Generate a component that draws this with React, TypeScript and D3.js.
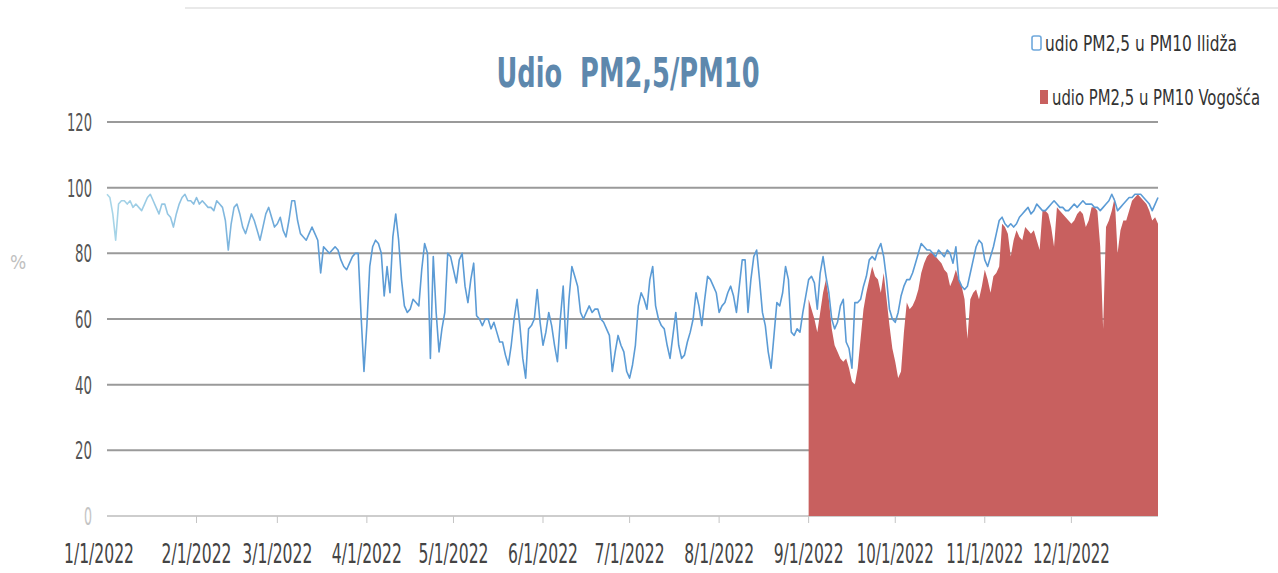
import React from "react";
import * as d3 from "d3";

const title = "Udio  PM2,5/PM10";
const seriesNames = ["udio PM2,5 u PM10 Ilidža", "udio PM2,5 u PM10 Vogošća"];
const yTicks = [0, 20, 40, 60, 80, 100, 120];
const monthLabels = ["1/1/2022", "2/1/2022", "3/1/2022", "4/1/2022", "5/1/2022", "6/1/2022", "7/1/2022", "8/1/2022", "9/1/2022", "10/1/2022", "11/1/2022", "12/1/2022"];

const ilidzaStart = "2022-01-01";
const ilidza = [
  // Jan
  98, 97, 92, 84, 95, 96, 96, 95, 96, 94, 95, 94, 93, 95, 97, 98, 96, 94, 92, 95, 95, 92, 91, 88, 92, 95, 97, 98, 96, 96, 95,
  // Feb
  97, 95, 96, 95, 94, 94, 93, 96, 95, 94, 90, 81, 89, 94, 95, 92, 88, 86, 89, 92, 90, 87, 84, 88, 92, 94, 91, 88,
  // Mar
  89, 91, 87, 85, 90, 96, 96, 90, 86, 85, 84, 86, 88, 86, 84, 74, 82, 81, 80, 81, 82, 81, 78, 76, 75, 77, 79, 80, 80, 61, 44,
  // Apr
  58, 76, 82, 84, 83, 80, 67, 76, 68, 85, 92, 84, 72, 64, 62, 63, 66, 65, 64, 75, 83, 80, 48, 79, 62, 50, 57, 62, 80, 79,
  // May
  75, 71, 78, 80, 70, 65, 72, 77, 61, 60, 58, 60, 60, 57, 59, 56, 53, 53, 49, 46, 52, 60, 66, 58, 48, 42, 57, 58, 60, 69, 59,
  // Jun
  52, 56, 62, 58, 52, 47, 60, 70, 51, 66, 76, 73, 70, 62, 60, 62, 64, 62, 63, 63, 60, 59, 57, 55, 44, 50, 55, 52, 50, 44,
  // Jul
  42, 46, 52, 64, 68, 66, 63, 72, 76, 64, 60, 58, 57, 52, 48, 55, 62, 52, 48, 49, 53, 56, 60, 68, 64, 58, 66, 73, 72, 70, 68,
  // Aug
  62, 64, 65, 68, 70, 67, 62, 70, 78, 78, 62, 72, 79, 81, 72, 62, 58, 50, 45, 55, 65, 64, 68, 76, 72, 56, 55, 57, 56, 62, 67,
  // Sep
  72, 73, 71, 63, 74, 79, 73, 68, 60, 57, 59, 64, 66, 53, 51, 45, 65, 65, 66, 70, 73, 78, 79, 78, 81, 83, 79, 72, 63, 60,
  // Oct
  59, 62, 67, 70, 72, 72, 74, 77, 80, 83, 82, 81, 81, 80, 79, 81, 80, 79, 81, 80, 77, 82, 72, 70, 69, 70, 74, 78, 82, 84, 83,
  // Nov
  78, 76, 79, 82, 86, 90, 91, 89, 88, 89, 88, 89, 91, 92, 93, 94, 92, 93, 95, 94, 93, 93, 94, 95, 96, 95, 94, 94, 93, 93,
  // Dec
  94, 95, 94, 95, 96, 95, 95, 95, 94, 94, 93, 94, 95, 96, 98, 96, 93, 94, 95, 96, 97, 97, 98, 98, 98, 97, 96, 95, 93, 95, 97,
];

const vogoscaStart = "2022-09-01";
const vogosca = [
  // Sep
  66, 63, 60, 56, 62, 68, 72, 66, 57, 52, 50, 48, 47, 48, 45, 41, 40, 45, 54, 63, 68, 72, 76, 73, 72, 68, 74, 66, 58, 51,
  // Oct
  47, 42, 44, 56, 65, 63, 64, 66, 69, 74, 77, 79, 80, 80, 79, 78, 77, 75, 74, 70, 72, 75, 72, 70, 66, 54, 66, 68, 69, 66, 70,
  // Nov
  75, 72, 68, 73, 74, 76, 89, 88, 86, 79, 84, 87, 85, 84, 88, 87, 86, 87, 84, 81, 93, 93, 92, 88, 82, 94, 93, 92, 91, 90,
  // Dec
  89, 90, 92, 93, 92, 88, 90, 94, 94, 93, 82, 57, 88, 90, 93, 97, 80, 87, 90, 90, 93, 96, 97, 98, 97, 96, 95, 93, 90, 91, 89,
];

const W = 1278;
const H = 573;
const FONT = "'DejaVu Sans Condensed', 'Liberation Sans Narrow', sans-serif";

type NTProps = {
  x: number;
  y: number;
  sx: number;
  width: number;
  anchor?: "start" | "middle" | "end";
  size: number;
  fill: string;
  weight?: string;
  children: React.ReactNode;
};

function NarrowText({ x, y, sx, width, anchor = "start", size, fill, weight = "normal", children }: NTProps) {
  return (
    <g transform={`translate(${x},${y}) scale(${sx},1)`}>
      <text x={0} y={0} textAnchor={anchor} fontFamily={FONT} fontSize={size} fontWeight={weight} fill={fill}
        textLength={width / sx} lengthAdjust="spacingAndGlyphs" style={{ whiteSpace: "pre" }}>
        {children}
      </text>
    </g>
  );
}

export default function App() {
  const parse = d3.timeParse("%Y-%m-%d");
  const x = d3
    .scaleTime()
    .domain([parse("2022-01-01") as Date, parse("2022-12-31") as Date])
    .range([107, 1158]);
  const y = d3.scaleLinear().domain([0, 120]).range([516, 122]);

  const s1 = ilidza.map((v, i) => ({ d: d3.timeDay.offset(parse(ilidzaStart) as Date, i), v }));
  const s2 = vogosca.map((v, i) => ({ d: d3.timeDay.offset(parse(vogoscaStart) as Date, i), v }));

  const line = d3
    .line<{ d: Date; v: number }>()
    .x((p) => x(p.d))
    .y((p) => y(p.v));
  const area = d3
    .area<{ d: Date; v: number }>()
    .x((p) => x(p.d))
    .y0(y(0))
    .y1((p) => y(p.v));

  const monthDates = monthLabels.map((_, i) => new Date(2022, i, 1));
  const [x0, x1] = x.range();

  return (
    <svg width={W} height={H} style={{ position: "absolute", left: 0, top: 0, background: "#fff" }}>
      <defs>
        <linearGradient id="blueGrad" gradientUnits="userSpaceOnUse" x1={107} y1={0} x2={330} y2={0}>
          <stop offset="0" stopColor="#a9d6e8" />
          <stop offset="1" stopColor="#5b9bd5" />
        </linearGradient>
      </defs>
      <line x1={185} x2={1278} y1={8} y2={8} stroke="#e2e2e2" strokeWidth={1.5} />

      {/* title */}
      <NarrowText x={628} y={87} sx={0.8} width={263} anchor="middle" size={40} weight="bold" fill="#5e88ad">
        {title}
      </NarrowText>

      {/* gridlines */}
      {yTicks.filter((t) => t > 0).map((t) => (
        <line key={t} x1={x0} x2={x1} y1={y(t)} y2={y(t)} stroke="#9a9a9a" strokeWidth={2} />
      ))}
      <line x1={x0} x2={x1} y1={y(0)} y2={y(0)} stroke="#bdbdbd" strokeWidth={1.5} />
      {monthDates.slice(1).map((d, i) => (
        <line key={i} x1={x(d)} x2={x(d)} y1={y(0)} y2={y(0) + 7} stroke="#c4c4c4" strokeWidth={1} />
      ))}

      {/* series */}
      <path d={area(s2) || ""} fill="#c8605f" />
      <path d={line(s1) || ""} fill="none" stroke="url(#blueGrad)" strokeWidth={1.6} strokeLinejoin="round" />

      {/* y axis labels */}
      {yTicks.map((t) => (
        <NarrowText key={t} x={92} y={y(t) + 9} sx={0.62} anchor="end" size={25}
          width={t >= 100 ? 25 : t === 0 ? 8 : 17} fill={t === 0 ? "#c4c4c4" : "#555"}>
          {t}
        </NarrowText>
      ))}
      <text x={18} y={269} textAnchor="middle" fontFamily={FONT} fontSize={19} fill="#c0c0c0">%</text>

      {/* x axis labels */}
      {monthLabels.map((lab, i) => (
        <NarrowText key={lab} x={x(monthDates[i]) + (i === 0 ? -8 : 0)} y={563} sx={0.66} anchor="middle" size={26}
          width={lab.length === 8 ? 70 : 77} fill="#444">
          {lab}
        </NarrowText>
      ))}

      {/* legend */}
      <rect x={1032} y={36} width={9} height={14} rx={2} fill="none" stroke="#6fa8dc" strokeWidth={1.6} />
      <NarrowText x={1045} y={51} sx={0.75} width={192} size={21} fill="#333">
        {seriesNames[0]}
      </NarrowText>
      <rect x={1040} y={90} width={8} height={14} fill="#c8605f" />
      <NarrowText x={1052} y={105} sx={0.75} width={208} size={21} fill="#333">
        {seriesNames[1]}
      </NarrowText>
    </svg>
  );
}
